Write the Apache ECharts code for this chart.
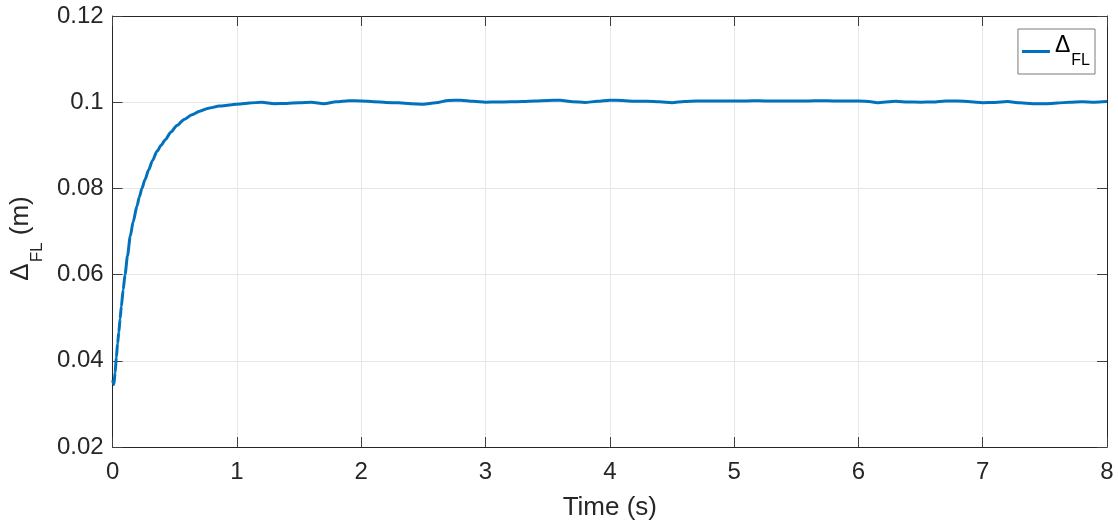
<!DOCTYPE html>
<html>
<head>
<meta charset="utf-8">
<script src="https://cdn.jsdelivr.net/npm/echarts@6/dist/echarts.min.js"></script>
<style>
html,body{margin:0;padding:0;background:#fff;}
#c{width:1118px;height:526px;}
</style>
</head>
<body>
<div id="c"></div>
<script>
// ---- data ----
const timeS = [
  0.000, 0.010, 0.020, 0.030, 0.040, 0.050, 0.060, 0.070, 0.085, 0.100,
  0.120, 0.142, 0.165, 0.196, 0.215, 0.236, 0.260, 0.290, 0.320, 0.357,
  0.390, 0.424, 0.470, 0.517, 0.575, 0.638, 0.700, 0.772, 0.860, 0.960,
  1.030, 1.100,
  1.2, 1.3, 1.4, 1.5, 1.6, 1.7, 1.8, 1.9, 2.0,
  2.1, 2.2, 2.3, 2.4, 2.5, 2.6, 2.7, 2.8, 2.9, 3.0,
  3.1, 3.2, 3.3, 3.4, 3.5, 3.6, 3.7, 3.8, 3.9, 4.0,
  4.1, 4.2, 4.3, 4.4, 4.5, 4.6, 4.7, 4.8, 4.9, 5.0,
  5.1, 5.2, 5.3, 5.4, 5.5, 5.6, 5.7, 5.8, 5.9, 6.0,
  6.1, 6.15, 6.2, 6.3, 6.4, 6.5, 6.6, 6.7, 6.8, 6.9, 7.0,
  7.1, 7.2, 7.3, 7.4, 7.5, 7.6, 7.7, 7.8, 7.9, 8.0
];
const deltaFL = [
  0.0355, 0.0345, 0.0372, 0.0408, 0.0440, 0.0466, 0.0497, 0.0526, 0.0565, 0.0600,
  0.0644, 0.0689, 0.0722, 0.0759, 0.0780, 0.0800, 0.0820, 0.0843, 0.0864, 0.0886,
  0.0900, 0.0913, 0.0931, 0.0946, 0.0960, 0.0971, 0.0979, 0.0986, 0.0991, 0.0994,
  0.0996, 0.0998,
  0.10000, 0.09965, 0.09970, 0.09990, 0.10000, 0.09965, 0.10010, 0.10035, 0.10030,
  0.10010, 0.09995, 0.09985, 0.09965, 0.09955, 0.09985, 0.10040, 0.10045, 0.10020, 0.10000,
  0.10005, 0.10010, 0.10015, 0.10025, 0.10040, 0.10045, 0.10010, 0.09995, 0.10020, 0.10045,
  0.10040, 0.10020, 0.10020, 0.10010, 0.09990, 0.10015, 0.10025, 0.10030, 0.10025, 0.10030,
  0.10030, 0.10035, 0.10025, 0.10030, 0.10025, 0.10030, 0.10035, 0.10030, 0.10025, 0.10030,
  0.10010, 0.09990, 0.10000, 0.10020, 0.10005, 0.10000, 0.10005, 0.10030, 0.10030, 0.10010, 0.09990,
  0.09995, 0.10015, 0.09985, 0.09965, 0.09965, 0.09980, 0.10000, 0.10010, 0.10000, 0.10015
];
const xTicks = { min: 0, max: 8, interval: 1 };
const yTicks = { min: 0.02, max: 0.12, interval: 0.02 };

// ---- chart ----
const FONT = '"Liberation Sans", Arial, Helvetica, sans-serif';
const TXT = '#262626';
const chart = echarts.init(document.getElementById('c'), null, { renderer: 'canvas' });
const points = timeS.map((t, i) => [t, deltaFL[i]]);

const tickStyle = { show: true, inside: true, length: 10, lineStyle: { color: '#404040', width: 1 } };
const axisLine = { show: true, onZero: false, lineStyle: { color: TXT, width: 1 } };
const split = { show: true, lineStyle: { color: '#e6e6e6', width: 1 } };
const yFmt = v => String(Number(v.toFixed(2)));

chart.setOption({
  animation: false,
  backgroundColor: '#fff',
  grid: { left: 112, right: 11, top: 16, bottom: 79, containLabel: false },
  legend: {
    right: 23, top: 29,
    orient: 'vertical',
    backgroundColor: '#fff',
    borderColor: '#7a7a7a', borderWidth: 1, borderRadius: 0,
    padding: [5, 5, 5, 4],
    icon: 'rect',
    itemWidth: 28, itemHeight: 3, itemGap: 0,
    formatter: () => '{d|Δ}{s|FL}',
    textStyle: {
      color: '#000', fontFamily: FONT,
      rich: {
        d: { fontSize: 23, fontFamily: FONT, color: '#000', verticalAlign: 'bottom', padding: [0, 0, 12, 0] },
        s: { fontSize: 16, fontFamily: FONT, color: '#000', verticalAlign: 'bottom', padding: [0, 0, 0, 1] }
      }
    },
    data: [{ name: 'ΔFL', icon: 'rect' }]
  },
  xAxis: [{
    type: 'value', position: 'bottom',
    min: xTicks.min, max: xTicks.max, interval: xTicks.interval,
    name: 'Time (s)', nameLocation: 'middle', nameGap: 48,
    nameTextStyle: { fontSize: 26, color: TXT, fontFamily: FONT },
    axisLine, axisTick: tickStyle, splitLine: split,
    axisLabel: { fontSize: 24, color: TXT, fontFamily: FONT, margin: 13 }
  }, {
    type: 'value', position: 'top',
    min: xTicks.min, max: xTicks.max, interval: xTicks.interval,
    axisLine, axisTick: tickStyle, splitLine: { show: false },
    axisLabel: { show: false }
  }],
  yAxis: [{
    type: 'value', position: 'left',
    min: yTicks.min, max: yTicks.max, interval: yTicks.interval,
    name: '{d|Δ}{s|FL}{d| (m)}', nameLocation: 'middle', nameGap: 61, nameRotate: 90,
    nameTextStyle: {
      color: TXT, fontFamily: FONT,
      padding: [0, 14, 0, 0],
      rich: {
        d: { fontSize: 26, color: TXT, fontFamily: FONT, verticalAlign: 'bottom', padding: [0, 0, 12, 0] },
        s: { fontSize: 17, color: TXT, fontFamily: FONT, verticalAlign: 'bottom', padding: [0, 0, 0, 1] }
      }
    },
    axisLine, axisTick: tickStyle, splitLine: split,
    axisLabel: { fontSize: 24, color: TXT, fontFamily: FONT, margin: 9, formatter: yFmt }
  }, {
    type: 'value', position: 'right',
    min: yTicks.min, max: yTicks.max, interval: yTicks.interval,
    axisLine, axisTick: tickStyle, splitLine: { show: false },
    axisLabel: { show: false }
  }],
  series: [{
    name: 'ΔFL',
    type: 'line',
    xAxisIndex: 0, yAxisIndex: 0,
    data: points,
    showSymbol: false, symbol: 'none',
    smooth: 0.25, smoothMonotone: 'x',
    lineStyle: { color: '#0072BD', width: 3 },
    itemStyle: { color: '#0072BD' }
  }]
});
</script>
</body>
</html>
